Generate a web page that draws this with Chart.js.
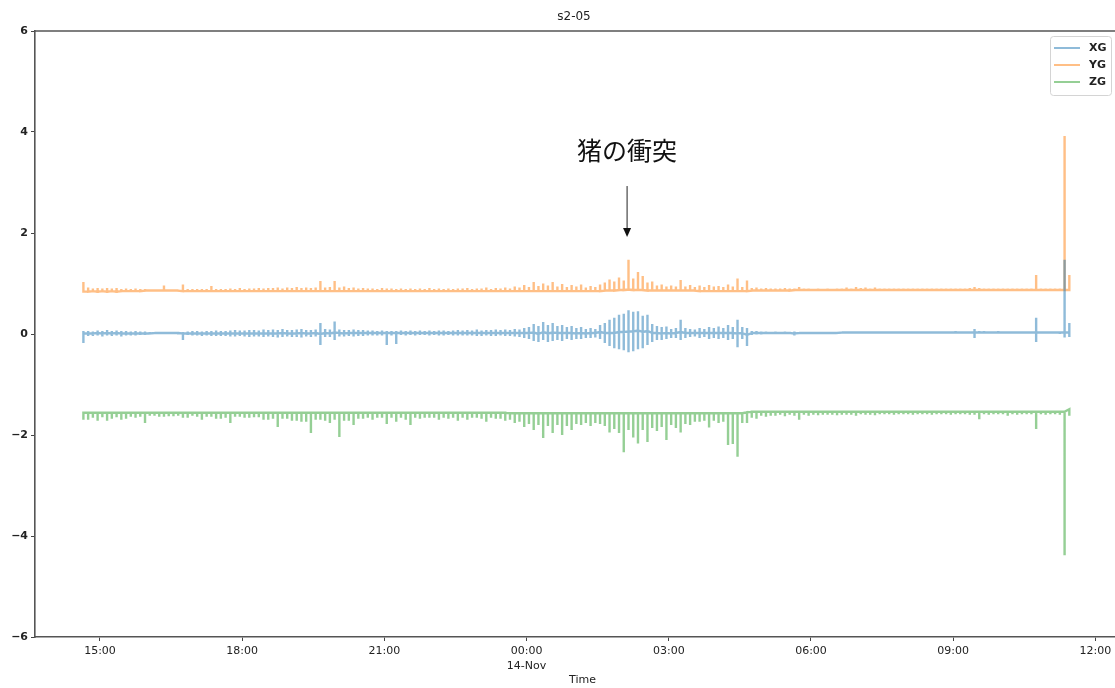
<!DOCTYPE html>
<html>
<head>
<meta charset="utf-8">
<script src="https://cdn.jsdelivr.net/npm/chart.js@4.4.1/dist/chart.umd.min.js"></script>
<style>
    html, body { margin: 0; padding: 0; background: #fff; overflow: hidden; }
    #wrap { width: 1130px; height: 688px; }
</style>
</head>
<body>
<div id="wrap"><canvas id="chart" width="1130" height="688"></canvas></div>
<script>
// 6-minute windows, hours after 13-Nov 00:00 (first window at 14:39)
// for each window the highest and the lowest reading
const sampleStart = 14.65;
const sampleStep = 0.1;

const seriesNames = ['XG', 'YG', 'ZG'];

const xgHigh = [
    0.06, 0.06, 0.05, 0.07, 0.06, 0.08, 0.06, 0.07, 0.06, 0.06,
    0.05, 0.06, 0.05, 0.05, 0.04, 0.03, 0.03, 0.03, 0.03, 0.04,
    0.04, 0.04, 0.05, 0.06, 0.06, 0.05, 0.06, 0.06, 0.07, 0.06,
    0.06, 0.07, 0.08, 0.07, 0.07, 0.08, 0.08, 0.07, 0.09, 0.08,
    0.09, 0.08, 0.10, 0.08, 0.08, 0.09, 0.10, 0.08, 0.08, 0.09,
    0.22, 0.10, 0.09, 0.25, 0.09, 0.08, 0.08, 0.09, 0.08, 0.08,
    0.07, 0.07, 0.06, 0.07, 0.06, 0.06, 0.06, 0.07, 0.06, 0.07,
    0.06, 0.07, 0.06, 0.07, 0.06, 0.07, 0.07, 0.06, 0.07, 0.08,
    0.07, 0.08, 0.07, 0.09, 0.07, 0.08, 0.08, 0.09, 0.08, 0.09,
    0.08, 0.10, 0.09, 0.12, 0.14, 0.20, 0.16, 0.24, 0.18, 0.22,
    0.16, 0.18, 0.14, 0.16, 0.12, 0.14, 0.10, 0.12, 0.10, 0.18,
    0.22, 0.28, 0.32, 0.38, 0.40, 0.47, 0.44, 0.45, 0.36, 0.38,
    0.20, 0.16, 0.14, 0.15, 0.10, 0.12, 0.28, 0.12, 0.10, 0.09,
    0.12, 0.10, 0.14, 0.12, 0.15, 0.12, 0.18, 0.14, 0.28, 0.14,
    0.12, 0.06, 0.06, 0.05, 0.05, 0.04, 0.05, 0.04, 0.05, 0.04,
    0.05, 0.04, 0.04, 0.04, 0.04, 0.04, 0.04, 0.04, 0.04, 0.04,
    0.05, 0.05, 0.05, 0.05, 0.05, 0.05, 0.05, 0.05, 0.05, 0.05,
    0.05, 0.05, 0.05, 0.05, 0.05, 0.05, 0.05, 0.05, 0.05, 0.05,
    0.05, 0.05, 0.05, 0.05, 0.06, 0.05, 0.05, 0.05, 0.10, 0.06,
    0.06, 0.05, 0.05, 0.06, 0.05, 0.05, 0.05, 0.05, 0.05, 0.05,
    0.05, 0.32, 0.05, 0.05, 0.04, 0.05, 0.04, 1.47, 0.22
];
const xgLow = [
    -0.18, -0.04, -0.04, -0.03, -0.05, -0.03, -0.04, -0.03, -0.05, -0.03,
    -0.03, -0.03, -0.02, -0.02, -0.01, 0.00, 0.00, 0.01, 0.00, 0.00,
    -0.01, -0.12, -0.02, -0.03, -0.03, -0.04, -0.03, -0.04, -0.04, -0.04,
    -0.04, -0.05, -0.05, -0.04, -0.05, -0.06, -0.05, -0.05, -0.06, -0.05,
    -0.06, -0.07, -0.06, -0.05, -0.06, -0.06, -0.07, -0.05, -0.06, -0.05,
    -0.22, -0.06, -0.06, -0.12, -0.05, -0.05, -0.04, -0.05, -0.04, -0.04,
    -0.03, -0.03, -0.03, -0.03, -0.22, -0.03, -0.20, -0.02, -0.03, -0.02,
    -0.03, -0.02, -0.02, -0.03, -0.02, -0.03, -0.03, -0.02, -0.03, -0.03,
    -0.03, -0.03, -0.03, -0.04, -0.04, -0.03, -0.04, -0.04, -0.03, -0.04,
    -0.04, -0.05, -0.06, -0.08, -0.10, -0.14, -0.16, -0.12, -0.16, -0.14,
    -0.12, -0.14, -0.10, -0.12, -0.10, -0.10, -0.08, -0.08, -0.07, -0.10,
    -0.18, -0.24, -0.28, -0.30, -0.32, -0.36, -0.34, -0.30, -0.28, -0.22,
    -0.16, -0.12, -0.12, -0.10, -0.08, -0.08, -0.12, -0.08, -0.06, -0.05,
    -0.08, -0.06, -0.10, -0.08, -0.10, -0.08, -0.12, -0.10, -0.26, -0.10,
    -0.24, -0.02, -0.01, -0.01, 0.00, 0.00, 0.00, 0.00, 0.00, 0.00,
    -0.03, 0.00, 0.00, 0.01, 0.01, 0.01, 0.01, 0.01, 0.01, 0.01,
    0.02, 0.02, 0.02, 0.02, 0.02, 0.02, 0.02, 0.02, 0.02, 0.02,
    0.02, 0.02, 0.02, 0.02, 0.02, 0.02, 0.02, 0.02, 0.02, 0.02,
    0.02, 0.02, 0.02, 0.02, 0.02, 0.02, 0.02, 0.02, -0.08, 0.01,
    0.02, 0.02, 0.02, 0.02, 0.02, 0.02, 0.02, 0.02, 0.02, 0.02,
    0.02, -0.16, 0.01, 0.02, 0.01, 0.02, 0.00, -0.07, -0.06
];
// mean reading of each window
const xgMean = [
    0.01, 0.01, 0.01, 0.02, 0.01, 0.02, 0.01, 0.02, 0.01, 0.01,
    0.01, 0.01, 0.01, 0.01, 0.01, 0.02, 0.02, 0.02, 0.02, 0.02,
    0.02, 0.01, 0.01, 0.01, 0.01, 0.01, 0.01, 0.01, 0.01, 0.01,
    0.01, 0.01, 0.01, 0.01, 0.01, 0.01, 0.01, 0.01, 0.01, 0.01,
    0.01, 0.01, 0.02, 0.01, 0.01, 0.01, 0.02, 0.01, 0.01, 0.02,
    0.00, 0.02, 0.01, 0.03, 0.02, 0.01, 0.02, 0.02, 0.02, 0.02,
    0.02, 0.02, 0.02, 0.02, 0.02, 0.02, 0.02, 0.02, 0.02, 0.02,
    0.02, 0.02, 0.02, 0.02, 0.02, 0.02, 0.02, 0.02, 0.02, 0.02,
    0.02, 0.02, 0.02, 0.02, 0.02, 0.02, 0.02, 0.02, 0.02, 0.02,
    0.02, 0.02, 0.02, 0.02, 0.02, 0.03, 0.00, 0.04, 0.01, 0.03,
    0.02, 0.02, 0.02, 0.02, 0.01, 0.02, 0.01, 0.02, 0.02, 0.04,
    0.02, 0.02, 0.02, 0.04, 0.04, 0.05, 0.05, 0.07, 0.04, 0.06,
    0.02, 0.02, 0.01, 0.02, 0.01, 0.02, 0.04, 0.02, 0.02, 0.02,
    0.02, 0.02, 0.02, 0.02, 0.02, 0.02, 0.02, 0.02, 0.01, 0.02,
    -0.02, 0.02, 0.02, 0.02, 0.02, 0.02, 0.02, 0.02, 0.02, 0.02,
    0.01, 0.02, 0.02, 0.02, 0.02, 0.02, 0.02, 0.02, 0.02, 0.02,
    0.03, 0.03, 0.03, 0.03, 0.03, 0.03, 0.03, 0.03, 0.03, 0.03,
    0.03, 0.03, 0.03, 0.03, 0.03, 0.03, 0.03, 0.03, 0.03, 0.03,
    0.03, 0.03, 0.03, 0.03, 0.03, 0.03, 0.03, 0.03, 0.03, 0.03,
    0.03, 0.03, 0.03, 0.03, 0.03, 0.03, 0.03, 0.03, 0.03, 0.03,
    0.03, 0.03, 0.03, 0.03, 0.03, 0.03, 0.03, 0.03, 0.03
];

const ygHigh = [
    1.03, 0.92, 0.90, 0.91, 0.90, 0.91, 0.90, 0.91, 0.89, 0.90,
    0.89, 0.90, 0.89, 0.89, 0.88, 0.88, 0.88, 0.96, 0.88, 0.88,
    0.88, 0.98, 0.89, 0.89, 0.89, 0.89, 0.89, 0.95, 0.89, 0.89,
    0.89, 0.90, 0.89, 0.91, 0.89, 0.90, 0.90, 0.91, 0.90, 0.91,
    0.91, 0.92, 0.90, 0.92, 0.91, 0.93, 0.91, 0.92, 0.91, 0.92,
    1.05, 0.92, 0.93, 1.05, 0.92, 0.94, 0.91, 0.92, 0.90, 0.91,
    0.90, 0.90, 0.89, 0.91, 0.90, 0.90, 0.89, 0.90, 0.89, 0.90,
    0.89, 0.90, 0.89, 0.91, 0.89, 0.90, 0.89, 0.90, 0.89, 0.90,
    0.90, 0.91, 0.89, 0.90, 0.90, 0.92, 0.89, 0.91, 0.90, 0.92,
    0.90, 0.94, 0.92, 0.97, 0.93, 1.03, 0.95, 1.00, 0.96, 1.03,
    0.94, 0.99, 0.93, 0.97, 0.94, 0.98, 0.92, 0.95, 0.93, 0.98,
    1.02, 1.08, 1.04, 1.12, 1.06, 1.47, 1.10, 1.23, 1.15, 1.02,
    1.04, 0.96, 0.98, 0.94, 0.96, 0.94, 1.07, 0.94, 0.97, 0.93,
    0.96, 0.93, 0.97, 0.94, 0.95, 0.93, 0.98, 0.94, 1.10, 0.93,
    1.06, 0.91, 0.92, 0.90, 0.91, 0.90, 0.90, 0.90, 0.91, 0.90,
    0.90, 0.93, 0.90, 0.90, 0.89, 0.90, 0.89, 0.90, 0.89, 0.90,
    0.90, 0.92, 0.90, 0.93, 0.91, 0.92, 0.90, 0.92, 0.90, 0.90,
    0.90, 0.90, 0.90, 0.90, 0.90, 0.90, 0.90, 0.90, 0.90, 0.90,
    0.90, 0.90, 0.90, 0.90, 0.90, 0.90, 0.90, 0.91, 0.93, 0.91,
    0.90, 0.90, 0.90, 0.90, 0.90, 0.90, 0.90, 0.90, 0.90, 0.90,
    0.90, 1.17, 0.90, 0.90, 0.90, 0.90, 0.90, 3.92, 1.17
];
const ygLow = [
    0.84, 0.84, 0.85, 0.84, 0.85, 0.84, 0.85, 0.84, 0.85, 0.85,
    0.85, 0.85, 0.85, 0.86, 0.86, 0.86, 0.86, 0.86, 0.86, 0.86,
    0.86, 0.85, 0.85, 0.85, 0.85, 0.85, 0.85, 0.85, 0.85, 0.85,
    0.85, 0.85, 0.85, 0.85, 0.85, 0.85, 0.85, 0.85, 0.85, 0.85,
    0.85, 0.85, 0.85, 0.85, 0.85, 0.85, 0.85, 0.85, 0.85, 0.85,
    0.85, 0.85, 0.85, 0.85, 0.85, 0.85, 0.85, 0.85, 0.85, 0.85,
    0.85, 0.85, 0.85, 0.85, 0.85, 0.85, 0.85, 0.85, 0.85, 0.85,
    0.85, 0.85, 0.85, 0.85, 0.85, 0.85, 0.85, 0.85, 0.85, 0.85,
    0.85, 0.85, 0.85, 0.85, 0.85, 0.85, 0.85, 0.85, 0.85, 0.85,
    0.85, 0.85, 0.85, 0.85, 0.85, 0.85, 0.85, 0.85, 0.85, 0.85,
    0.85, 0.85, 0.85, 0.85, 0.85, 0.85, 0.85, 0.85, 0.85, 0.85,
    0.86, 0.86, 0.86, 0.87, 0.87, 0.88, 0.87, 0.87, 0.87, 0.86,
    0.86, 0.86, 0.86, 0.86, 0.86, 0.86, 0.86, 0.86, 0.86, 0.86,
    0.85, 0.85, 0.85, 0.85, 0.85, 0.85, 0.85, 0.85, 0.85, 0.85,
    0.85, 0.86, 0.86, 0.86, 0.86, 0.86, 0.86, 0.86, 0.86, 0.86,
    0.87, 0.87, 0.87, 0.87, 0.87, 0.87, 0.87, 0.87, 0.87, 0.87,
    0.87, 0.87, 0.87, 0.87, 0.87, 0.87, 0.87, 0.87, 0.87, 0.87,
    0.87, 0.87, 0.87, 0.87, 0.87, 0.87, 0.87, 0.87, 0.87, 0.87,
    0.87, 0.87, 0.87, 0.87, 0.87, 0.87, 0.87, 0.87, 0.87, 0.87,
    0.87, 0.87, 0.87, 0.87, 0.87, 0.87, 0.87, 0.87, 0.87, 0.87,
    0.87, 0.87, 0.87, 0.87, 0.87, 0.87, 0.87, 0.87, 0.87
];

const zgHigh = [
    -1.56, -1.56, -1.56, -1.56, -1.56, -1.56, -1.56, -1.56, -1.56, -1.56,
    -1.56, -1.56, -1.56, -1.56, -1.56, -1.56, -1.56, -1.56, -1.56, -1.56,
    -1.56, -1.56, -1.56, -1.56, -1.56, -1.56, -1.56, -1.56, -1.56, -1.56,
    -1.56, -1.56, -1.56, -1.56, -1.56, -1.56, -1.56, -1.56, -1.56, -1.56,
    -1.56, -1.56, -1.56, -1.56, -1.56, -1.56, -1.56, -1.56, -1.56, -1.56,
    -1.56, -1.56, -1.56, -1.56, -1.56, -1.56, -1.56, -1.56, -1.56, -1.56,
    -1.56, -1.56, -1.56, -1.56, -1.56, -1.56, -1.56, -1.56, -1.56, -1.56,
    -1.56, -1.56, -1.56, -1.56, -1.56, -1.56, -1.56, -1.56, -1.56, -1.56,
    -1.56, -1.56, -1.56, -1.56, -1.56, -1.56, -1.56, -1.56, -1.56, -1.56,
    -1.57, -1.57, -1.57, -1.57, -1.57, -1.57, -1.57, -1.57, -1.57, -1.57,
    -1.57, -1.57, -1.57, -1.57, -1.57, -1.57, -1.57, -1.57, -1.57, -1.57,
    -1.57, -1.57, -1.57, -1.57, -1.57, -1.57, -1.57, -1.57, -1.57, -1.57,
    -1.57, -1.57, -1.57, -1.57, -1.57, -1.57, -1.57, -1.57, -1.57, -1.57,
    -1.57, -1.57, -1.57, -1.57, -1.57, -1.57, -1.57, -1.57, -1.57, -1.57,
    -1.55, -1.54, -1.54, -1.54, -1.54, -1.54, -1.54, -1.54, -1.54, -1.54,
    -1.54, -1.54, -1.54, -1.54, -1.54, -1.54, -1.54, -1.54, -1.54, -1.54,
    -1.54, -1.54, -1.54, -1.54, -1.54, -1.54, -1.54, -1.54, -1.54, -1.54,
    -1.54, -1.54, -1.54, -1.54, -1.54, -1.54, -1.54, -1.54, -1.54, -1.54,
    -1.54, -1.54, -1.54, -1.54, -1.54, -1.54, -1.54, -1.54, -1.54, -1.54,
    -1.54, -1.54, -1.54, -1.54, -1.54, -1.54, -1.54, -1.54, -1.54, -1.54,
    -1.54, -1.54, -1.54, -1.54, -1.54, -1.54, -1.54, -1.54, -1.49
];
const zgLow = [
    -1.70, -1.70, -1.66, -1.72, -1.65, -1.72, -1.68, -1.65, -1.70, -1.68,
    -1.64, -1.66, -1.64, -1.76, -1.62, -1.62, -1.64, -1.64, -1.63, -1.63,
    -1.62, -1.66, -1.66, -1.62, -1.64, -1.70, -1.64, -1.64, -1.68, -1.68,
    -1.66, -1.76, -1.64, -1.64, -1.66, -1.66, -1.65, -1.65, -1.70, -1.70,
    -1.68, -1.84, -1.68, -1.68, -1.72, -1.72, -1.74, -1.74, -1.96, -1.70,
    -1.70, -1.72, -1.76, -1.70, -2.04, -1.72, -1.72, -1.80, -1.68, -1.68,
    -1.66, -1.70, -1.66, -1.66, -1.78, -1.66, -1.74, -1.66, -1.70, -1.80,
    -1.66, -1.68, -1.66, -1.66, -1.66, -1.70, -1.66, -1.68, -1.66, -1.72,
    -1.66, -1.70, -1.66, -1.66, -1.68, -1.74, -1.66, -1.68, -1.68, -1.72,
    -1.70, -1.76, -1.74, -1.84, -1.78, -1.90, -1.80, -2.06, -1.82, -1.96,
    -1.80, -2.00, -1.82, -1.90, -1.78, -1.80, -1.76, -1.82, -1.76, -1.78,
    -1.82, -1.95, -1.88, -1.96, -2.34, -1.90, -2.05, -2.17, -1.90, -2.14,
    -1.86, -1.92, -1.84, -2.10, -1.80, -1.86, -1.95, -1.78, -1.80, -1.74,
    -1.74, -1.72, -1.85, -1.72, -1.76, -1.74, -2.20, -2.18, -2.43, -1.76,
    -1.76, -1.66, -1.68, -1.62, -1.64, -1.62, -1.62, -1.60, -1.63, -1.60,
    -1.62, -1.70, -1.60, -1.62, -1.60, -1.61, -1.60, -1.60, -1.60, -1.61,
    -1.60, -1.60, -1.60, -1.62, -1.59, -1.60, -1.60, -1.61, -1.59, -1.59,
    -1.59, -1.60, -1.59, -1.59, -1.59, -1.60, -1.59, -1.59, -1.59, -1.60,
    -1.59, -1.59, -1.59, -1.60, -1.59, -1.59, -1.59, -1.60, -1.60, -1.69,
    -1.59, -1.60, -1.59, -1.59, -1.59, -1.62, -1.59, -1.60, -1.59, -1.59,
    -1.59, -1.88, -1.59, -1.60, -1.59, -1.59, -1.60, -4.38, -1.62
];

const tickHours = [15, 18, 21, 24, 27, 30, 33, 36];
const tickLabels = ['15:00', '18:00', '21:00', ['00:00', '14-Nov'], '03:00', '06:00', '09:00', '12:00'];
const yTicks = [-6, -4, -2, 0, 2, 4, 6];

// note on the plot: the pig hitting the fence, around 02:07
const noteText = '猪の衝突';
const noteHour = 26.12;
const noteTextY = 3.64;
const noteArrowFrom = 2.93;
const noteArrowTo = 1.92;

const colors = ['rgba(31,119,180,0.5)', 'rgba(255,127,14,0.5)', 'rgba(44,160,44,0.5)'];

// each window is a vertical stroke between its low and high reading;
// between windows the line runs along `join` (XG mean, YG low edge, ZG high edge)
function toPoints(high, low, join) {
    const pts = [];
    high.forEach((h, i) => {
        const t = sampleStart + i * sampleStep;
        pts.push({ x: t, y: join[i] }, { x: t, y: h }, { x: t, y: low[i] }, { x: t, y: join[i] });
    });
    return pts;
}

const decorPlugin = {
    id: 'decor',
    afterDraw(chart) {
        const ctx = chart.ctx;
        const area = chart.chartArea;
        const xs = chart.scales.x;
        const ys = chart.scales.y;
        ctx.save();

        // top spine
        ctx.strokeStyle = '#555';
        ctx.lineWidth = 1.6;
        ctx.beginPath();
        ctx.moveTo(area.left - 1, area.top);
        ctx.lineTo(area.right, area.top);
        ctx.stroke();

        // title
        ctx.fillStyle = '#222';
        ctx.font = '12px "DejaVu Sans"';
        ctx.textAlign = 'center';
        ctx.textBaseline = 'middle';
        ctx.fillText('s2-05', 574, 17);

        // annotation
        const nx = xs.getPixelForValue(noteHour);
        ctx.fillStyle = '#111';
        ctx.font = '25px "Noto Sans CJK JP"';
        ctx.fillText(noteText, nx, ys.getPixelForValue(noteTextY));
        const y0 = ys.getPixelForValue(noteArrowFrom);
        const y1 = ys.getPixelForValue(noteArrowTo);
        ctx.strokeStyle = '#222';
        ctx.lineWidth = 1;
        ctx.beginPath();
        ctx.moveTo(nx, y0);
        ctx.lineTo(nx, y1 - 8);
        ctx.stroke();
        ctx.beginPath();
        ctx.moveTo(nx - 4, y1 - 9);
        ctx.lineTo(nx + 4, y1 - 9);
        ctx.lineTo(nx, y1);
        ctx.closePath();
        ctx.fill();

        // legend box
        const bx = 1050, by = 36, bw = 61, bh = 59;
        ctx.fillStyle = 'rgba(255,255,255,0.8)';
        ctx.strokeStyle = '#d4d4d4';
        ctx.lineWidth = 1;
        ctx.beginPath();
        ctx.roundRect(bx + 0.5, by + 0.5, bw, bh, 3);
        ctx.fill();
        ctx.stroke();
        ctx.font = 'bold 11px "DejaVu Sans"';
        ctx.textAlign = 'left';
        chart.data.datasets.forEach((ds, i) => {
            const ly = by + 12 + i * 17;
            ctx.strokeStyle = ds.borderColor;
            ctx.lineWidth = 2;
            ctx.beginPath();
            ctx.moveTo(bx + 4, ly);
            ctx.lineTo(bx + 30, ly);
            ctx.stroke();
            ctx.fillStyle = '#222';
            ctx.fillText(ds.label, bx + 39, ly);
        });
        ctx.restore();
    }
};

const series = [
    { high: xgHigh, low: xgLow, join: xgMean },
    { high: ygHigh, low: ygLow, join: ygLow },
    { high: zgHigh, low: zgLow, join: zgHigh }
];

const ctx = document.getElementById('chart').getContext('2d');
new Chart(ctx, {
    type: 'line',
    data: {
        datasets: series.map((s, i) => ({
            label: seriesNames[i],
            data: toPoints(s.high, s.low, s.join),
            borderColor: colors[i],
            borderWidth: 2.4,
            pointRadius: 0,
            tension: 0,
            fill: false
        }))
    },
    options: {
        responsive: false,
        animation: false,
        events: [],
        layout: { padding: { top: 31, left: 0, right: 0, bottom: 0 } },
        plugins: {
            legend: { display: false },
            title: { display: false },
            tooltip: { enabled: false }
        },
        scales: {
            x: {
                type: 'linear',
                min: 13.629,
                max: 36.73,
                afterBuildTicks: scale => { scale.ticks = tickHours.map(v => ({ value: v })); },
                afterFit: scale => { scale.height = 51; },
                ticks: {
                    autoSkip: false,
                    maxRotation: 0,
                    padding: 3,
                    color: '#222',
                    font: { family: 'DejaVu Sans', size: 11, lineHeight: 1.35 },
                    callback: value => tickLabels[tickHours.indexOf(value)]
                },
                grid: { drawOnChartArea: false, drawTicks: true, tickLength: 4, color: '#444' },
                border: { display: true, color: '#555', width: 1.6 },
                title: {
                    display: true,
                    text: 'Time',
                    color: '#222',
                    font: { family: 'DejaVu Sans', size: 11 },
                    padding: { top: 0, bottom: 1 }
                }
            },
            y: {
                min: -6,
                max: 6,
                afterBuildTicks: scale => { scale.ticks = yTicks.map(v => ({ value: v })); },
                afterFit: scale => { scale.width = 35; },
                ticks: {
                    padding: 3,
                    color: '#222',
                    font: { family: 'DejaVu Sans', size: 11, weight: 'bold' },
                    callback: value => String(value).replace('-', '\u2212')
                },
                grid: { drawOnChartArea: false, drawTicks: true, tickLength: 4, color: '#444' },
                border: { display: true, color: '#555', width: 1.6 }
            }
        }
    },
    plugins: [decorPlugin]
});
</script>
</body>
</html>
